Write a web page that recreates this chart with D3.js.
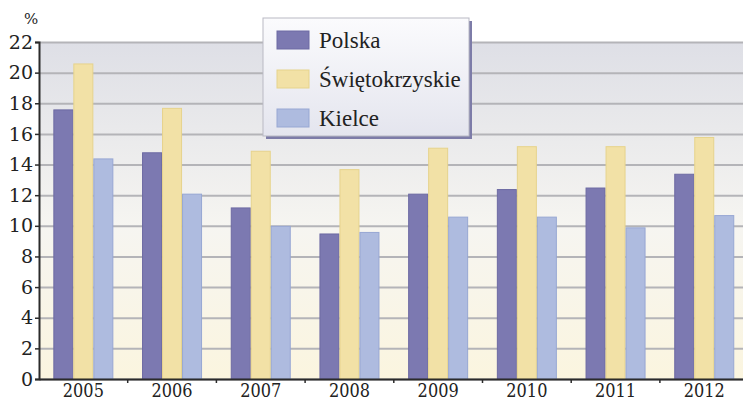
<!DOCTYPE html>
<html>
<head>
<meta charset="utf-8">
<script src="https://cdn.jsdelivr.net/npm/d3@7"></script>
<style>
  html, body { margin: 0; padding: 0; background: #fff; }
  #chart { width: 743px; height: 402px; overflow: hidden; }
</style>
</head>
<body>
<div id="chart"></div>
<script>
const years = ["2005", "2006", "2007", "2008", "2009", "2010", "2011", "2012"];
const seriesNames = ["Polska", "Świętokrzyskie", "Kielce"];
const polska = [17.6, 14.8, 11.2, 9.5, 12.1, 12.4, 12.5, 13.4];
const swietokrzyskie = [20.6, 17.7, 14.9, 13.7, 15.1, 15.2, 15.2, 15.8];
const kielce = [14.4, 12.1, 10.0, 9.6, 10.6, 10.6, 9.9, 10.7];
const yTicks = [0, 2, 4, 6, 8, 10, 12, 14, 16, 18, 20, 22];

const fills = ["#7c79b1", "#f2e1a6", "#aebbdf"];
const strokes = ["#6d6aa3", "#e6d38c", "#97a7d3"];
const numFont = '"DejaVu Serif"';
const lblFont = '"Liberation Serif"';

const fullWidth = 743, fullHeight = 402;
const margin = { top: 42, left: 39 };
const width = 710;   // plot runs past the right edge, as in the original
const height = 337;

const svg = d3.select("#chart").append("svg")
  .attr("width", fullWidth)
  .attr("height", fullHeight);

const defs = svg.append("defs");
const bg = defs.append("linearGradient")
  .attr("id", "bg").attr("x1", 0).attr("y1", 0).attr("x2", 0).attr("y2", 1);
bg.append("stop").attr("offset", "0%").attr("stop-color", "#dedfe6");
bg.append("stop").attr("offset", "55%").attr("stop-color", "#f6f5f1");
bg.append("stop").attr("offset", "100%").attr("stop-color", "#fbf5df");

const lg = defs.append("linearGradient")
  .attr("id", "lg").attr("x1", 0).attr("y1", 0).attr("x2", 0).attr("y2", 1);
lg.append("stop").attr("offset", "0%").attr("stop-color", "#fbfbfd");
lg.append("stop").attr("offset", "100%").attr("stop-color", "#e4e5ee");

const chart = svg.append("g")
  .attr("transform", `translate(${margin.left},${margin.top})`);

const x = d3.scaleBand().domain(years).range([0, 88.7 * years.length]).padding(0);
const xs = d3.scaleBand().domain(seriesNames).range([0, 60]).padding(0);
const y = d3.scaleLinear().domain([0, 22]).range([height, 0]);

// === Background ===
chart.append("rect")
  .attr("x", 0).attr("y", 0)
  .attr("width", width).attr("height", height)
  .attr("fill", "url(#bg)");

// === Gridlines ===
chart.append("g")
  .call(d3.axisLeft(y).tickValues(yTicks).tickSize(-width).tickFormat(""))
  .call(g => g.select(".domain").remove())
  .selectAll("line")
  .attr("stroke", "#b4b4b8")
  .attr("stroke-width", 2);

// === Bars ===
const rows = years.map((yr, i) => ({
  year: yr,
  values: [polska[i], swietokrzyskie[i], kielce[i]]
}));

const groups = chart.selectAll("g.year")
  .data(rows)
  .enter()
  .append("g")
  .attr("class", "year")
  .attr("transform", d => `translate(${x(d.year) + (x.bandwidth() - 60) / 2},0)`);

groups.selectAll("rect")
  .data(d => d.values.map((v, k) => ({ name: seriesNames[k], value: v, k })))
  .enter()
  .append("rect")
  .attr("x", d => xs(d.name) + 0.5)
  .attr("y", d => y(d.value) + 0.5)
  .attr("width", xs.bandwidth() - 1)
  .attr("height", d => height - y(d.value) - 0.5)
  .attr("fill", d => fills[d.k])
  .attr("stroke", d => strokes[d.k])
  .attr("stroke-width", 1);

// === Axes ===
const yAxis = chart.append("g")
  .call(d3.axisLeft(y).tickValues(yTicks).tickSize(4).tickPadding(2))
  .attr("font-family", numFont)
  .attr("font-size", 19);
yAxis.select(".domain").attr("stroke", "#2b2b2b").attr("stroke-width", 2);
yAxis.selectAll(".tick line").attr("stroke", "#2b2b2b").attr("stroke-width", 1.5);
yAxis.selectAll(".tick text")
  .attr("fill", "#222")
  .style("font-family", numFont)
  .style("font-size", "19px");

const xAxis = chart.append("g")
  .attr("transform", `translate(0,${height})`)
  .call(d3.axisBottom(x).tickSize(0).tickPadding(5))
  .attr("font-family", numFont)
  .attr("font-size", 19);
xAxis.select(".domain").attr("stroke", "#2b2b2b").attr("stroke-width", 2);
xAxis.selectAll(".tick text")
  .attr("fill", "#222")
  .attr("transform", "scale(0.85,1)")
  .style("font-family", numFont)
  .style("font-size", "19px");

// small ticks between categories
chart.append("g")
  .selectAll("line")
  .data(years.slice(1))
  .enter()
  .append("line")
  .attr("x1", d => x(d)).attr("x2", d => x(d))
  .attr("y1", height).attr("y2", height + 4)
  .attr("stroke", "#2b2b2b")
  .attr("stroke-width", 1.5);

// === Unit label ===
svg.append("text")
  .attr("x", 24)
  .attr("y", 24)
  .attr("fill", "#222")
  .style("font-family", numFont)
  .style("font-size", "15px")
  .text("%");

// === Legend ===
const legend = svg.append("g").attr("transform", "translate(263,18)");
legend.append("rect")
  .attr("x", 3).attr("y", 3)
  .attr("width", 206).attr("height", 118)
  .attr("fill", "#7d7ca8");
legend.append("rect")
  .attr("x", 0).attr("y", 0)
  .attr("width", 206).attr("height", 118)
  .attr("fill", "url(#lg)")
  .attr("stroke", "#b9b9c4")
  .attr("stroke-width", 1);

seriesNames.forEach((name, i) => {
  const g = legend.append("g").attr("transform", `translate(14, ${13 + i * 39})`);
  g.append("rect")
    .attr("width", 32).attr("height", 18)
    .attr("fill", fills[i])
    .attr("stroke", strokes[i]);
  g.append("text")
    .attr("x", 42)
    .attr("y", 17)
    .attr("fill", "#222")
    .style("font-family", lblFont)
    .style("font-size", "23px")
    .text(name);
});
</script>
</body>
</html>
